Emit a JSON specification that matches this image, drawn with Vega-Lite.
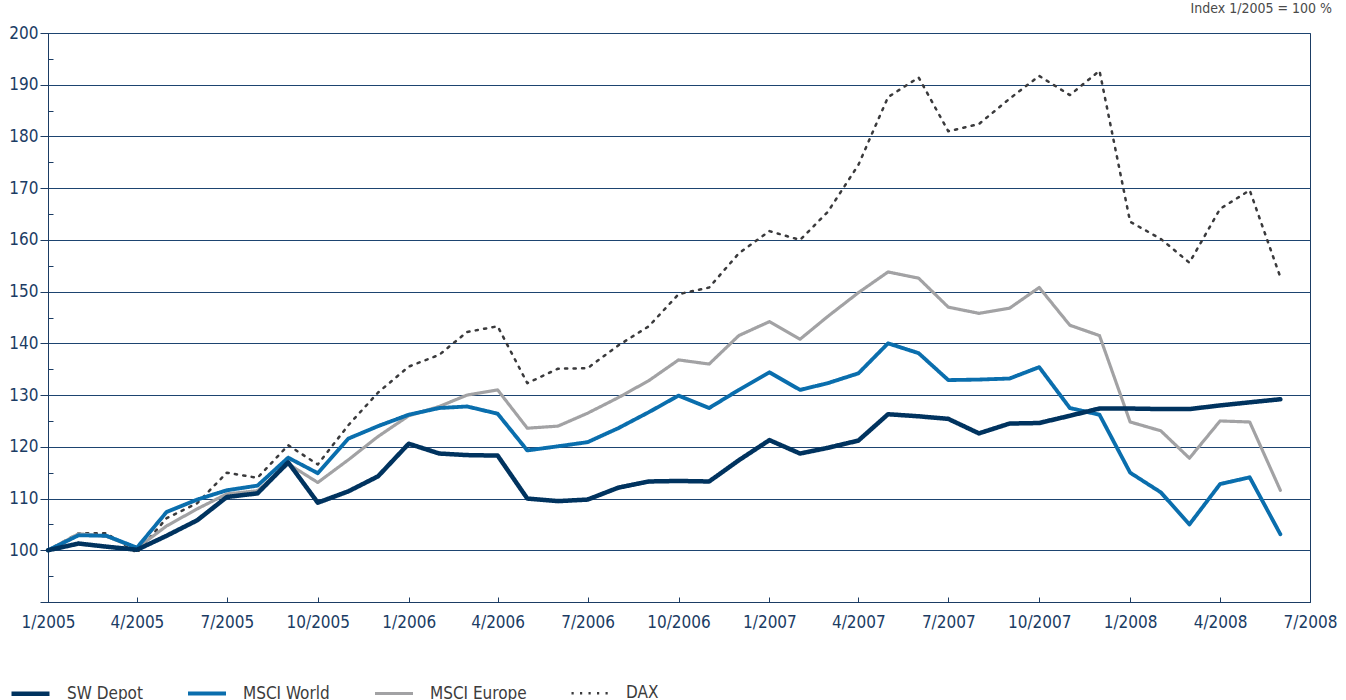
{
  "$schema": "https://vega.github.io/schema/vega-lite/v6.json",
  "width": 1262,
  "height": 569,
  "autosize": {"type": "none"},
  "padding": {"left": 48, "top": 33, "right": 36, "bottom": 98},
  "background": "#ffffff",
  "config": {
    "font": "DejaVu Sans Condensed, DejaVu Sans, sans-serif",
    "view": {"stroke": "#1b3c64", "strokeWidth": 1},
    "line": {"strokeCap": "round", "strokeJoin": "round"}
  },
  "title": {
    "text": "Index 1/2005 = 100 %",
    "anchor": "end",
    "frame": "group",
    "dx": 22,
    "offset": 8,
    "fontSize": 14,
    "fontWeight": "normal",
    "color": "#4a4a4a"
  },
  "data": {
    "values": [
      {"d": "2005-01-01", "SW Depot": 100, "MSCI World": 100, "MSCI Europe": 100, "DAX": 100},
      {"d": "2005-02-01", "SW Depot": 101.3, "MSCI World": 102.9, "MSCI Europe": 103.2, "DAX": 103.3},
      {"d": "2005-03-01", "SW Depot": 100.7, "MSCI World": 102.8, "MSCI Europe": 102.7, "DAX": 103.3},
      {"d": "2005-04-01", "SW Depot": 100.1, "MSCI World": 100.5, "MSCI Europe": 100.4, "DAX": 99.5},
      {"d": "2005-05-01", "SW Depot": 102.8, "MSCI World": 107.4, "MSCI Europe": 104.7, "DAX": 106.2},
      {"d": "2005-06-01", "SW Depot": 105.8, "MSCI World": 109.8, "MSCI Europe": 108.0, "DAX": 109.1},
      {"d": "2005-07-01", "SW Depot": 110.3, "MSCI World": 111.6, "MSCI Europe": 110.9, "DAX": 115.0},
      {"d": "2005-08-01", "SW Depot": 111.0, "MSCI World": 112.5, "MSCI Europe": 111.5, "DAX": 114.0},
      {"d": "2005-09-01", "SW Depot": 117.0, "MSCI World": 117.9, "MSCI Europe": 116.7, "DAX": 120.3},
      {"d": "2005-10-01", "SW Depot": 109.2, "MSCI World": 114.9, "MSCI Europe": 113.1, "DAX": 116.6},
      {"d": "2005-11-01", "SW Depot": 111.4, "MSCI World": 121.6, "MSCI Europe": 117.5, "DAX": 124.2},
      {"d": "2005-12-01", "SW Depot": 114.3, "MSCI World": 124.0, "MSCI Europe": 122.0, "DAX": 130.5},
      {"d": "2006-01-01", "SW Depot": 120.6, "MSCI World": 126.2, "MSCI Europe": 126.0, "DAX": 135.5},
      {"d": "2006-02-01", "SW Depot": 118.7, "MSCI World": 127.5, "MSCI Europe": 127.8, "DAX": 137.8},
      {"d": "2006-03-01", "SW Depot": 118.4, "MSCI World": 127.8, "MSCI Europe": 130.0, "DAX": 142.2},
      {"d": "2006-04-01", "SW Depot": 118.3, "MSCI World": 126.4, "MSCI Europe": 131.0, "DAX": 143.3},
      {"d": "2006-05-01", "SW Depot": 110.0, "MSCI World": 119.3, "MSCI Europe": 123.6, "DAX": 132.3},
      {"d": "2006-06-01", "SW Depot": 109.5, "MSCI World": 120.1, "MSCI Europe": 124.0, "DAX": 135.1},
      {"d": "2006-07-01", "SW Depot": 109.8, "MSCI World": 120.9, "MSCI Europe": 126.5, "DAX": 135.2},
      {"d": "2006-08-01", "SW Depot": 112.1, "MSCI World": 123.6, "MSCI Europe": 129.5, "DAX": 139.6},
      {"d": "2006-09-01", "SW Depot": 113.3, "MSCI World": 126.7, "MSCI Europe": 132.8, "DAX": 143.3},
      {"d": "2006-10-01", "SW Depot": 113.4, "MSCI World": 129.9, "MSCI Europe": 136.8, "DAX": 149.5},
      {"d": "2006-11-01", "SW Depot": 113.3, "MSCI World": 127.5, "MSCI Europe": 136.0, "DAX": 150.8},
      {"d": "2006-12-01", "SW Depot": 117.4, "MSCI World": 131.0, "MSCI Europe": 141.5, "DAX": 157.4},
      {"d": "2007-01-01", "SW Depot": 121.3, "MSCI World": 134.4, "MSCI Europe": 144.2, "DAX": 161.7},
      {"d": "2007-02-01", "SW Depot": 118.7, "MSCI World": 131.0, "MSCI Europe": 140.8, "DAX": 160.0},
      {"d": "2007-03-01", "SW Depot": 119.8, "MSCI World": 132.3, "MSCI Europe": 145.2, "DAX": 165.4},
      {"d": "2007-04-01", "SW Depot": 121.2, "MSCI World": 134.2, "MSCI Europe": 149.8, "DAX": 174.5},
      {"d": "2007-05-01", "SW Depot": 126.3, "MSCI World": 140.0, "MSCI Europe": 153.8, "DAX": 187.6},
      {"d": "2007-06-01", "SW Depot": 125.9, "MSCI World": 138.1, "MSCI Europe": 152.6, "DAX": 191.4},
      {"d": "2007-07-01", "SW Depot": 125.4, "MSCI World": 132.9, "MSCI Europe": 147.0, "DAX": 181.0},
      {"d": "2007-08-01", "SW Depot": 122.6, "MSCI World": 133.0, "MSCI Europe": 145.8, "DAX": 182.4},
      {"d": "2007-09-01", "SW Depot": 124.5, "MSCI World": 133.2, "MSCI Europe": 146.8, "DAX": 187.3},
      {"d": "2007-10-01", "SW Depot": 124.6, "MSCI World": 135.4, "MSCI Europe": 150.8, "DAX": 191.7},
      {"d": "2007-11-01", "SW Depot": 126.0, "MSCI World": 127.5, "MSCI Europe": 143.5, "DAX": 188.0},
      {"d": "2007-12-01", "SW Depot": 127.4, "MSCI World": 126.2, "MSCI Europe": 141.5, "DAX": 192.7},
      {"d": "2008-01-01", "SW Depot": 127.4, "MSCI World": 115.0, "MSCI Europe": 124.8, "DAX": 163.5},
      {"d": "2008-02-01", "SW Depot": 127.3, "MSCI World": 111.2, "MSCI Europe": 123.1, "DAX": 160.2},
      {"d": "2008-03-01", "SW Depot": 127.3, "MSCI World": 105.0, "MSCI Europe": 117.8, "DAX": 155.6},
      {"d": "2008-04-01", "SW Depot": 128.0, "MSCI World": 112.8, "MSCI Europe": 125.0, "DAX": 166.0},
      {"d": "2008-05-01", "SW Depot": 128.6, "MSCI World": 114.1, "MSCI Europe": 124.8, "DAX": 169.6},
      {"d": "2008-06-01", "SW Depot": 129.2, "MSCI World": 103.1, "MSCI Europe": 111.6, "DAX": 152.8}
    ]
  },
  "transform": [
    {"fold": ["DAX", "MSCI Europe", "MSCI World", "SW Depot"], "as": ["s", "v"]}
  ],
  "mark": {"type": "line", "strokeCap": "round", "strokeJoin": "round"},
  "encoding": {
    "x": {
      "field": "d",
      "type": "temporal",
      "scale": {"type": "utc", "domain": ["2005-01-01", "2008-07-01"]},
      "axis": {
        "title": null,
        "values": ["2005-01-01", "2005-04-01", "2005-07-01", "2005-10-01", "2006-01-01", "2006-04-01", "2006-07-01", "2006-10-01", "2007-01-01", "2007-04-01", "2007-07-01", "2007-10-01", "2008-01-01", "2008-04-01", "2008-07-01"],
        "labelExpr": "utcFormat(datum.value, '%-m/%Y')",
        "grid": false,
        "tickSize": -5,
        "tickColor": "#1b3c64",
        "domainColor": "#1b3c64",
        "labelPadding": 17,
        "labelFontSize": 17,
        "labelColor": "#1b3c64",
        "labelFlush": false,
        "labelOverlap": false
      }
    },
    "y": {
      "field": "v",
      "type": "quantitative",
      "scale": {"domain": [90, 200], "nice": false, "zero": false},
      "axis": {
        "title": null,
        "values": [90, 95, 100, 105, 110, 115, 120, 125, 130, 135, 140, 145, 150, 155, 160, 165, 170, 175, 180, 185, 190, 195, 200],
        "labelExpr": "datum.value % 10 == 0 && datum.value >= 100 ? datum.label : ''",
        "tickSize": {"condition": {"test": "datum.value % 10 == 0", "value": 8}, "value": -5},
        "tickColor": "#1b3c64",
        "domainColor": "#1b3c64",
        "gridColor": "#1d4470",
        "gridWidth": 1.1,
        "gridOpacity": {"condition": {"test": "datum.value % 10 == 0 && datum.value >= 100", "value": 1}, "value": 0},
        "labelPadding": 2,
        "labelFontSize": 17,
        "labelColor": "#1b3c64",
        "labelOverlap": false
      }
    },
    "color": {
      "field": "s",
      "type": "nominal",
      "scale": {"domain": ["SW Depot", "MSCI World", "MSCI Europe", "DAX"], "range": ["#00335f", "#0a6ead", "#a2a2a4", "#3a3a3c"]},
      "legend": {
        "title": null,
        "orient": "none",
        "legendX": -39,
        "legendY": 639,
        "direction": "horizontal",
        "symbolType": "stroke",
        "symbolSize": 1444,
        "labelOffset": 15,
        "columnPadding": 43,
        "labelFontSize": 17,
        "labelColor": "#3c3c3c",
        "labelLimit": 300
      }
    },
    "strokeWidth": {
      "field": "s",
      "type": "nominal",
      "scale": {"domain": ["SW Depot", "MSCI World", "MSCI Europe", "DAX"], "range": [4.5, 2.5, 2.5, 4.5]},
      "legend": null
    },
    "strokeDash": {
      "field": "s",
      "type": "nominal",
      "scale": {"domain": ["SW Depot", "MSCI World", "MSCI Europe", "DAX"], "range": [[1, 0], [1, 0], [1, 0], [2.2, 6.3]]},
      "legend": null
    }
  }
}
